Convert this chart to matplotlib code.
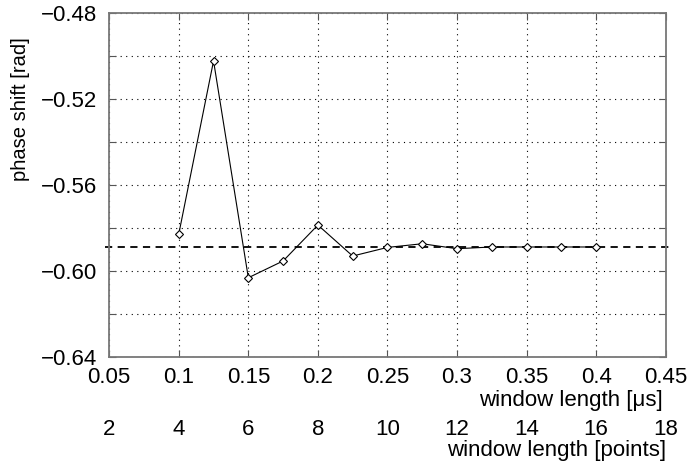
import matplotlib
matplotlib.use("Agg")
import matplotlib.pyplot as plt
import numpy as np

plt.rcParams['font.family'] = ['Liberation Sans', 'DejaVu Sans']

# window length [us] and measured phase shift [rad]
window_us = [0.1, 0.125, 0.15, 0.175, 0.2, 0.225, 0.25, 0.275, 0.3, 0.325, 0.35, 0.375, 0.4]
phase = [-0.5828, -0.5023, -0.6031, -0.5953, -0.5786, -0.5930, -0.5890,
         -0.5873, -0.5896, -0.5888, -0.5888, -0.5888, -0.5888]
reference_phase = -0.5887
points_per_us = 40

xticks = [0.05, 0.1, 0.15, 0.2, 0.25, 0.3, 0.35, 0.4, 0.45]
xticklabels = ['0.05', '0.1', '0.15', '0.2', '0.25', '0.3', '0.35', '0.4', '0.45']
yticks = np.arange(-0.64, -0.479, 0.02)
yticklabels = ['\u22120.64', '', '\u22120.60', '', '\u22120.56', '', '\u22120.52', '', '\u22120.48']
pts_ticks = [2, 4, 6, 8, 10, 12, 14, 16, 18]

fig = plt.figure(figsize=(7, 4.62), dpi=100)
ax = fig.add_axes([0.156, 0.227, 0.795, 0.745])

ax.plot(window_us, phase, color='black', lw=0.8, marker='D', ms=4.5,
        mfc='white', mec='black', mew=0.8, zorder=3)
# reference level, runs a little past both spines
ax.axhline(reference_phase, xmin=-0.008, xmax=1.008, clip_on=False,
           color='black', lw=1.3, ls=(0, (4, 3)), zorder=2)

ax.set_xlim(0.05, 0.45)
ax.set_ylim(-0.64, -0.48)
ax.set_xticks(xticks)
ax.set_xticklabels(xticklabels)
ax.set_yticks(yticks)
ax.set_yticklabels(yticklabels)
ax.tick_params(direction='in', top=True, right=True, length=5, labelsize=16,
               color='#555555')
ax.tick_params(axis='x', pad=7)
ax.tick_params(axis='y', pad=9)
ax.grid(True, ls=(0, (1, 4)), color='black', lw=0.8)
for s in ax.spines.values():
    s.set_color('#777777')
    s.set_linewidth(1.3)

ax.set_ylabel('phase shift [rad]', fontsize=14.5)
ax.yaxis.set_label_coords(-0.16, 0.72)
ax.yaxis.label.set_va('center')

ax.set_xlabel('window length [\u03bcs]', fontsize=16, loc='right')
ax.xaxis.set_label_coords(0.995, -0.125)
ax.xaxis.label.set_va('center')

sec = ax.secondary_xaxis(-0.18, functions=(lambda x: x * points_per_us,
                                           lambda p: p / points_per_us))
sec.set_xticks(pts_ticks)
sec.spines['bottom'].set_visible(False)
sec.tick_params(length=0, labelsize=16, pad=0)
sec.set_xlabel('window length [points]', fontsize=16, loc='right', labelpad=0)

fig.savefig('out.png', dpi=100)
